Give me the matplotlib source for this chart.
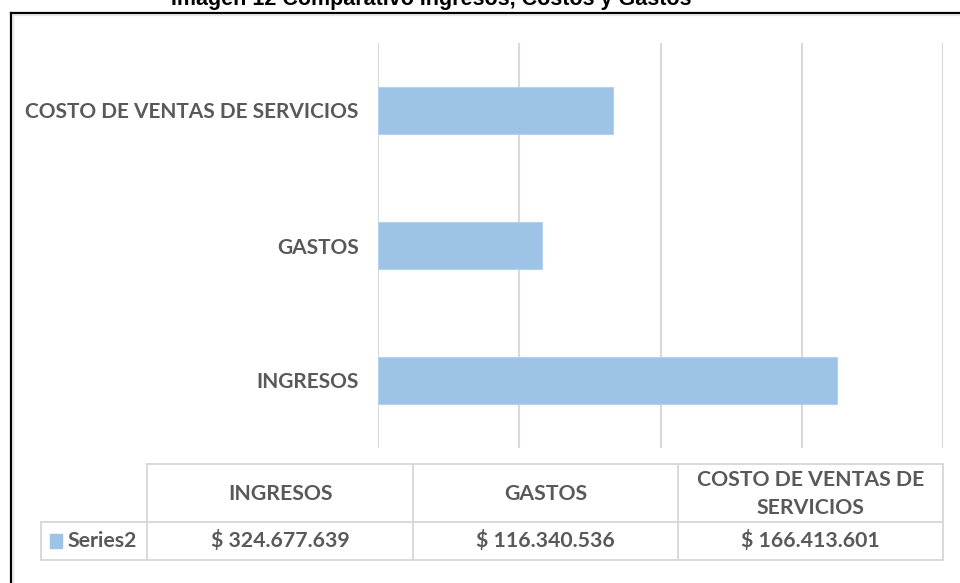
import matplotlib
matplotlib.use("Agg")
import matplotlib.pyplot as plt
from matplotlib.lines import Line2D
from matplotlib.patches import Rectangle

# data
categorias = ["INGRESOS", "GASTOS", "COSTO DE VENTAS DE SERVICIOS"]
encabezados = ["INGRESOS", "GASTOS", "COSTO DE VENTAS DE\nSERVICIOS"]
valores = [324677639, 116340536, 166413601]
serie = "Series2"

W, H = 960, 583
BAR = "#9dc3e6"
GRIS = "#595959"
LINEA = "#d9d9d9"


def fx(x):
    return x / W


def fy(y):
    return 1 - y / H


def fmt(v):
    return "$ " + f"{v:,}".replace(",", ".")


fig = plt.figure(figsize=(W / 100, H / 100), dpi=100)
fig.patch.set_facecolor("white")

ax = fig.add_axes([fx(378), fy(448), fx(943) - fx(378), fy(43) - fy(448)])
ax.barh(range(len(categorias)), valores, height=0.35, color=BAR,
        edgecolor="#b4d2ee", linewidth=0.8, zorder=3)
ax.set_xlim(0, 400000000)
ax.set_ylim(-0.5, len(categorias) - 0.5)
ax.set_xticks([0, 100000000, 200000000, 300000000, 400000000])
ax.xaxis.grid(True, color=LINEA, linewidth=1.5, zorder=0)
ax.tick_params(axis="x", length=0, labelbottom=False)
ax.set_yticks(range(len(categorias)))
ax.set_yticklabels(categorias, fontfamily="Lato", fontweight="bold",
                   fontsize=15, color=GRIS)
ax.tick_params(axis="y", length=0, pad=14)
for s in ax.spines.values():
    s.set_visible(False)

# titulo (cortado arriba)
fig.text(fx(431), fy(5), "Imagen 12 Comparativo Ingresos, Costos y Gastos",
         ha="center", va="baseline", fontsize=15.5, fontweight="bold",
         fontfamily="Liberation Sans", color="black")

# borde exterior
fig.add_artist(Line2D([fx(13), fx(960)], [fy(14.5), fy(14.5)], color="#e6e6e6", lw=1))
fig.add_artist(Line2D([fx(13), fx(13)], [fy(14.5), fy(583)], color="#e6e6e6", lw=1))
fig.add_artist(Line2D([fx(10.5), fx(960)], [fy(12.5), fy(12.5)], color="black", lw=1.6))
fig.add_artist(Line2D([fx(10.5), fx(10.5)], [fy(12.5), fy(583)], color="black", lw=1.6))

# tabla de datos
cols = [147, 413, 678, 943]
x_izq = 41
y_top, y_mid, y_bot = 464, 522, 560
lk = dict(color=LINEA, lw=1.4)
fig.add_artist(Line2D([fx(cols[0]), fx(cols[-1])], [fy(y_top)] * 2, **lk))
fig.add_artist(Line2D([fx(x_izq), fx(cols[-1])], [fy(y_mid)] * 2, **lk))
fig.add_artist(Line2D([fx(x_izq), fx(cols[-1])], [fy(y_bot)] * 2, **lk))
fig.add_artist(Line2D([fx(x_izq), fx(x_izq)], [fy(y_mid), fy(y_bot)], **lk))
for c in cols:
    fig.add_artist(Line2D([fx(c), fx(c)], [fy(y_top), fy(y_bot)], **lk))

tk = dict(ha="center", va="center", fontfamily="Lato", fontweight="bold",
          fontsize=15.3, color=GRIS, linespacing=1.5)
for i, (h, v) in enumerate(zip(encabezados, valores)):
    xc = (cols[i] + cols[i + 1]) / 2
    fig.text(fx(xc), fy((y_top + y_mid) / 2 + 1), h, **tk)
    fig.text(fx(xc), fy((y_mid + y_bot) / 2), fmt(v), **tk)

fig.add_artist(Rectangle((fx(50), fy(548)), fx(12), fy(534) - fy(548), color=BAR))
fig.text(fx(67), fy((y_mid + y_bot) / 2), serie, ha="left", va="center",
         fontfamily="Lato", fontweight="bold", fontsize=15.3, color=GRIS)

fig.savefig("out.png", dpi=100, facecolor="white")
